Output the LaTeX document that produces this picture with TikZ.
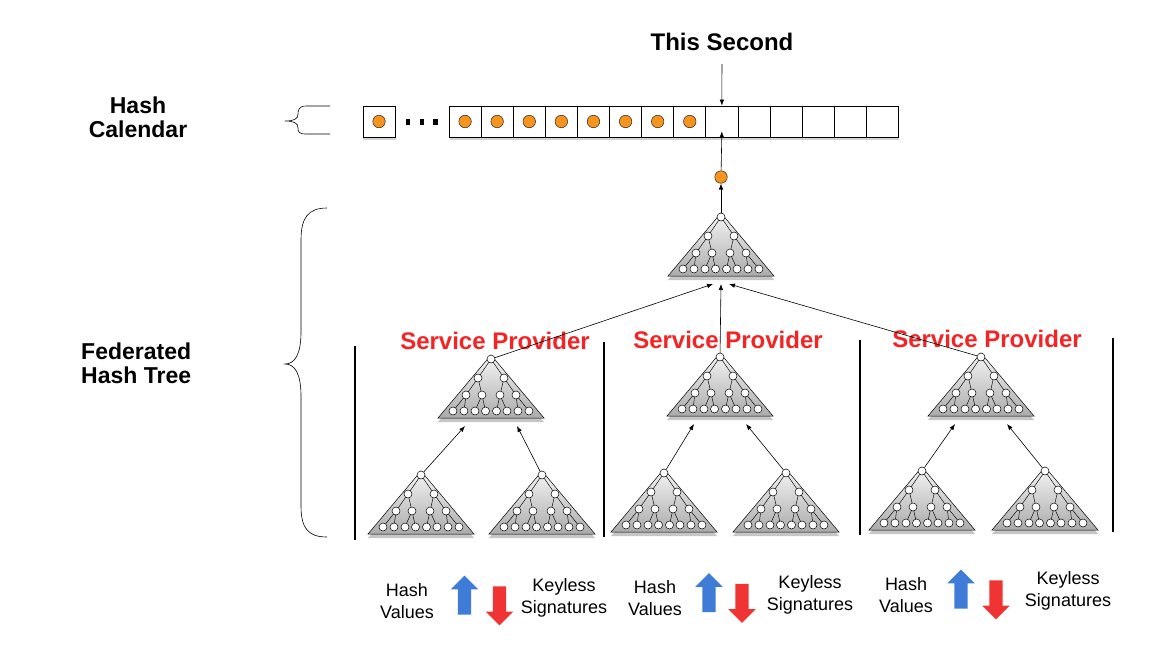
\documentclass[tikz,border=0pt]{standalone}
\usepackage{fontspec}
\setmainfont{Liberation Sans}
\usepackage{tikz}
\usetikzlibrary{arrows.meta}
\usetikzlibrary{shadows}
\usetikzlibrary{shapes.arrows}
\definecolor{hc-orange}{HTML}{F7941D}
\definecolor{hc-red}{HTML}{F42424}
\definecolor{hc-blue}{HTML}{3E7CD8}
\definecolor{hc-down}{HTML}{F03434}

\begin{document}
\begin{tikzpicture}[
    x=1pt, y=-1pt,
    >={Latex[length=6pt,width=4.5pt]},
    cell/.style={draw=black, fill=white, line width=0.7pt, minimum width=32.1pt, minimum height=31pt, inner sep=0pt, drop shadow={opacity=0.35, shadow xshift=0.5pt, shadow yshift=-3pt}},
    stamp/.style={circle, draw=black!85, fill=hc-orange, minimum size=12.5pt, inner sep=0pt, line width=0.5pt},
    treedot/.style={circle, draw=black, fill=white, minimum size=8pt, inner sep=0pt, line width=0.5pt},
    heading/.style={font=\bfseries\fontsize{23}{24}\selectfont, align=center, inner sep=0pt},
    provider/.style={font=\bfseries\fontsize{24}{26}\selectfont, text=hc-red, inner sep=0pt},
    legendtext/.style={font=\fontsize{18}{21.5}\selectfont, align=center, inner sep=0pt},
    uparrow/.style={single arrow, fill=hc-blue, minimum height=39pt, inner sep=6.5pt, single arrow head extend=7pt, shape border rotate=90},
    downarrow/.style={single arrow, fill=hc-down, minimum height=39pt, inner sep=6.5pt, single arrow head extend=7pt, shape border rotate=270},
    conn/.style={->, line width=0.6pt, draw=black},
    divider/.style={line width=2.6pt, draw=black},
    curly/.style={line width=0.6pt, draw=black},
    hashtree/.pic={
        \path[draw=black, line width=0.5pt, top color=gray!8, bottom color=gray!66,
              drop shadow={opacity=0.45, shadow xshift=0pt, shadow yshift=-4pt}]
            (0,-4) -- (53,59) -- (-53,59) -- cycle;
        \draw[line width=0.45pt] (0,0) -- (-13,19) -- (-25,36) -- (-38,52)
            (-25,36) -- (-27,52) (-13,19) -- (-9,36) -- (-16,52) (-9,36) -- (-5.5,52)
            (0,0) -- (13,19) -- (9,36) -- (5.5,52) (9,36) -- (16,52)
            (13,19) -- (25,36) -- (27,52) (25,36) -- (38,52);
        \foreach \lx in {-38,-27,-16,-5.5,5.5,16,27,38}
            \node[treedot] at (\lx,52) {};
        \foreach \mx/\my in {-13/19,13/19,-25/36,-9/36,9/36,25/36}
            \node[treedot] at (\mx,\my) {};
        \node[treedot] (-root) at (0,0) {};
        \coordinate (-base) at (0,67);
    }
]
\useasboundingbox (0,0) rectangle (1151,654);

% ── Hash Calendar ─────────────────────────────────────────────
\node[heading] (calhead) at (138,117) {Hash\\Calendar};
\draw[curly] (330,106) -- (306,106) .. controls (299,106) and (298,110) .. (298,114)
    .. controls (298,119) and (294,121) .. (285,121)
    .. controls (294,121) and (298,123) .. (298,128)
    .. controls (298,132) and (299,134) .. (306,134) -- (330,134);

\node[cell] (calfirst) at (379,121.5) {};
\node[stamp] at (calfirst) {};
\foreach \dx in {408,422,435.5}
    \fill (\dx-2.3,119.3) rectangle (\dx+2.3,124.7);
\foreach \i in {1,...,14}
    \node[cell] (cal\i) at (449+32.1*\i-16.05,121.5) {};
\foreach \i in {1,...,8}
    \node[stamp] at (cal\i) {};

\node[heading, font=\bfseries\fontsize{24}{26}\selectfont] (second) at (722,42) {This Second};
\draw[conn, shorten <=13pt] (second) -- (cal9);

% ── Federated Hash Tree ───────────────────────────────────────
\node[heading, align=left, anchor=west] (fedhead) at (81,363) {Federated\\Hash Tree};
\draw[curly] (327,208) .. controls (308,208) and (301,218) .. (301,240) -- (301,332)
    .. controls (301,354) and (295,364) .. (285,364)
    .. controls (295,364) and (301,374) .. (301,396) -- (301,506)
    .. controls (301,528) and (308,537) .. (327,537);

\pic (top) at (721,217) {hashtree};
\node[stamp] (topdot) at (721,177) {};
\draw[conn] (top-root) -- (topdot);
\draw[conn] (topdot) -- ([yshift=6pt]cal9.south);

\node[provider] (sp1lbl) at (495,341) {Service Provider};
\node[provider] (sp2lbl) at (728,340) {Service Provider};
\node[provider] (sp3lbl) at (987,339) {Service Provider};

\pic (sp1) at (491,359) {hashtree};
\pic (sp2) at (720,357) {hashtree};
\pic (sp3) at (981,357) {hashtree};

\draw[conn] (sp1-root) -- ([xshift=-8pt]top-base);
\draw[conn] (sp2-root) -- (top-base);
\draw[conn] (sp3-root) -- ([xshift=8pt]top-base);

\pic (l1a) at (421,475) {hashtree};
\pic (l1b) at (542,475) {hashtree};
\pic (l2a) at (664,473) {hashtree};
\pic (l2b) at (786,473) {hashtree};
\pic (l3a) at (922,471) {hashtree};
\pic (l3b) at (1045,471) {hashtree};

\draw[conn] (l1a-root) -- ([xshift=-26pt]sp1-base);
\draw[conn] (l1b-root) -- ([xshift=26pt]sp1-base);
\draw[conn] (l2a-root) -- ([xshift=-26pt]sp2-base);
\draw[conn] (l2b-root) -- ([xshift=26pt]sp2-base);
\draw[conn] (l3a-root) -- ([xshift=-26pt]sp3-base);
\draw[conn] (l3b-root) -- ([xshift=26pt]sp3-base);

% ── Separators ────────────────────────────────────────────────
\draw[divider] (355,346) -- (355,540);
\draw[divider] (604,342) -- (604,537);
\draw[divider] (860,340) -- (860,535);
\draw[divider] (1113,338) -- (1113,532);

% ── Legend ────────────────────────────────────────────────────
\node[legendtext] (hv1) at (407,601) {Hash\\Values};
\node[uparrow] (up1) at (464.5,598.5) {};
\node[downarrow] (dn1) at (499.5,602.5) {};
\node[legendtext] (ks1) at (564,598) {Keyless\\Signatures};

\node[legendtext] (hv2) at (655,598) {Hash\\Values};
\node[uparrow] (up2) at (709,596) {};
\node[downarrow] (dn2) at (742,600) {};
\node[legendtext] (ks2) at (810,595) {Keyless\\Signatures};

\node[legendtext] (hv3) at (906,595) {Hash\\Values};
\node[uparrow] (up3) at (961,592.5) {};
\node[downarrow] (dn3) at (996,596.5) {};
\node[legendtext] (ks3) at (1068,591) {Keyless\\Signatures};

\end{tikzpicture}
\end{document}
